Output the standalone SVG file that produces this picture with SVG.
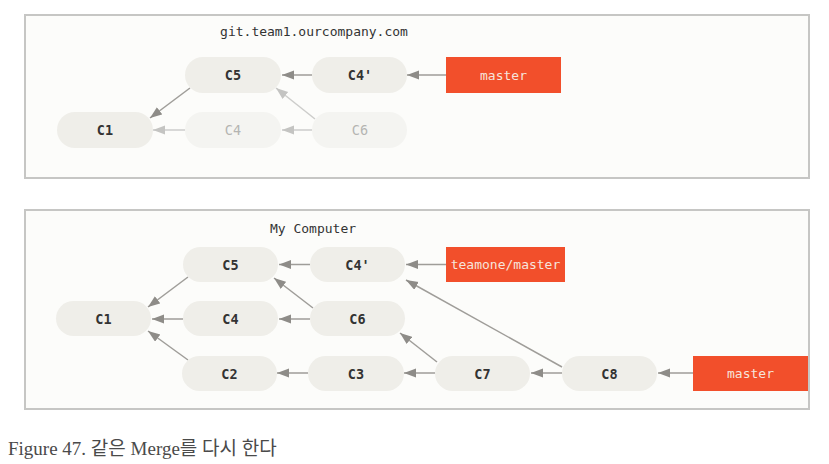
<svg xmlns="http://www.w3.org/2000/svg" width="829" height="464" viewBox="0 0 829 464">
<style>
.box{fill:#fcfcfa;stroke:#c6c6c4;stroke-width:2}
.title{font-family:"DejaVu Sans Mono","Liberation Mono",monospace;font-size:13px;fill:#333;text-anchor:middle}
.node rect{fill:#efeee9}
.node text{font-family:"DejaVu Sans Mono","Liberation Mono",monospace;font-size:13.5px;font-weight:bold;fill:#333;text-anchor:middle}
.faded rect{fill:#f4f4f1}
.faded text{fill:#b4b4b2;font-weight:normal}
.branch rect{fill:#f24f2b}
.branch text{font-family:"DejaVu Sans Mono","Liberation Mono",monospace;font-size:13px;fill:#f6e4dc;text-anchor:middle}
.edge{stroke:#9f9d99;stroke-width:1.5;fill:none;marker-end:url(#ah)}
.edge.f{stroke:#cdcdcb;marker-end:url(#ahf)}
.caption{font-family:"Liberation Serif","Noto Sans CJK KR",serif;font-size:19px;fill:#4a4a4a}
</style>
<defs>
<marker id="ah" markerUnits="userSpaceOnUse" markerWidth="13" markerHeight="10" refX="12" refY="4.5" orient="auto"><path d="M0,0 L12,4.5 L0,9 z" fill="#8e8c88"/></marker>
<marker id="ahf" markerUnits="userSpaceOnUse" markerWidth="13" markerHeight="10" refX="12" refY="4.5" orient="auto"><path d="M0,0 L12,4.5 L0,9 z" fill="#c4c4c2"/></marker>
</defs>
<rect width="829" height="464" fill="#ffffff"/>
<g id="server">
<rect class="box" x="25" y="15" width="784" height="163"/>
<text class="title" x="314" y="36">git.team1.ourcompany.com</text>
</g>
<g id="local">
<rect class="box" x="25" y="210" width="784" height="199"/>
<text class="title" x="313" y="233">My Computer</text>
</g>
<g id="connectors">
<line class="edge" x1="312" y1="75" x2="282" y2="75"/>
<line class="edge" x1="446" y1="75" x2="407" y2="75"/>
<line class="edge" x1="190" y1="88" x2="150" y2="118"/>
<line class="edge f" x1="185" y1="130" x2="153" y2="130"/>
<line class="edge f" x1="312" y1="130" x2="282" y2="130"/>
<line class="edge f" x1="315" y1="119" x2="276" y2="88"/>
<line class="edge" x1="310" y1="264.5" x2="279" y2="264.5"/>
<line class="edge" x1="446" y1="264.5" x2="406" y2="264.5"/>
<line class="edge" x1="188" y1="277" x2="148" y2="307"/>
<line class="edge" x1="183" y1="319" x2="152" y2="319"/>
<line class="edge" x1="310" y1="319" x2="279" y2="319"/>
<line class="edge" x1="313" y1="308" x2="274" y2="278"/>
<line class="edge" x1="188" y1="360" x2="148" y2="331"/>
<line class="edge" x1="308" y1="373" x2="277" y2="373"/>
<line class="edge" x1="435" y1="373" x2="404" y2="373"/>
<line class="edge" x1="437" y1="362" x2="400" y2="333"/>
<line class="edge" x1="562" y1="373" x2="531" y2="373"/>
<line class="edge" x1="562" y1="367" x2="406" y2="280"/>
<line class="edge" x1="693" y1="373" x2="658" y2="373"/>
</g>
<g id="s_C5" class="node"><rect x="185" y="57" width="96" height="36" rx="18"/><text x="233" y="80">C5</text></g>
<g id="s_C4p" class="node"><rect x="312" y="57" width="95" height="36" rx="18"/><text x="360" y="80">C4'</text></g>
<g id="s_C1" class="node"><rect x="57" y="112" width="96" height="36" rx="18"/><text x="105" y="135">C1</text></g>
<g id="s_C4" class="node faded"><rect x="185" y="112" width="96" height="36" rx="18"/><text x="233" y="135">C4</text></g>
<g id="s_C6" class="node faded"><rect x="312" y="112" width="95" height="36" rx="18"/><text x="360" y="135">C6</text></g>
<g id="s_master" class="branch"><rect x="446" y="57" width="115" height="36"/><text x="503.5" y="79.5">master</text></g>
<g id="l_C5" class="node"><rect x="183" y="247" width="95" height="35" rx="17.5"/><text x="230.5" y="269.5">C5</text></g>
<g id="l_C4p" class="node"><rect x="310" y="247" width="95" height="35" rx="17.5"/><text x="357.5" y="269.5">C4'</text></g>
<g id="l_C1" class="node"><rect x="56" y="301" width="95" height="35" rx="17.5"/><text x="103.5" y="323.5">C1</text></g>
<g id="l_C4" class="node"><rect x="183" y="301" width="95" height="35" rx="17.5"/><text x="230.5" y="323.5">C4</text></g>
<g id="l_C6" class="node"><rect x="310" y="301" width="95" height="35" rx="17.5"/><text x="357.5" y="323.5">C6</text></g>
<g id="l_C2" class="node"><rect x="182" y="356" width="95" height="35" rx="17.5"/><text x="229.5" y="378.5">C2</text></g>
<g id="l_C3" class="node"><rect x="308" y="356" width="96" height="35" rx="17.5"/><text x="356" y="378.5">C3</text></g>
<g id="l_C7" class="node"><rect x="435" y="356" width="95" height="35" rx="17.5"/><text x="482.5" y="378.5">C7</text></g>
<g id="l_C8" class="node"><rect x="562" y="356" width="95" height="35" rx="17.5"/><text x="609.5" y="378.5">C8</text></g>
<g id="l_teamone" class="branch"><rect x="446" y="247" width="119" height="35"/><text x="505.5" y="269">teamone/master</text></g>
<g id="l_master" class="branch"><rect x="693" y="356" width="115" height="35"/><text x="750.5" y="378">master</text></g>
<text class="caption" x="8" y="455">Figure 47. 같은 Merge를 다시 한다</text>
</svg>
